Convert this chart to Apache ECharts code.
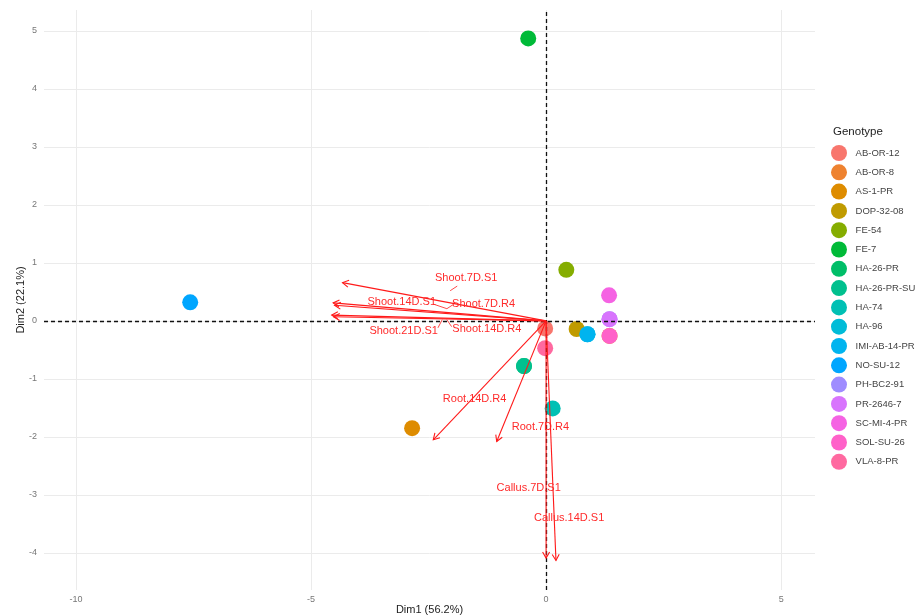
<!DOCTYPE html>
<html>
<head>
<meta charset="utf-8">
<title>PCA biplot</title>
<script src="https://cdn.jsdelivr.net/npm/echarts@6/dist/echarts.min.js"></script>
<style>
  html, body { margin: 0; padding: 0; background: #ffffff; }
  #chart { width: 920px; height: 615px; }
</style>
</head>
<body>
<div id="chart"></div>
<script>
// Individuals (genotypes) on the first two principal dimensions
const genotypes = ['AB-OR-12', 'AB-OR-8', 'AS-1-PR', 'DOP-32-08', 'FE-54', 'FE-7', 'HA-26-PR',
  'HA-26-PR-SU', 'HA-74', 'HA-96', 'IMI-AB-14-PR', 'NO-SU-12', 'PH-BC2-91', 'PR-2646-7',
  'SC-MI-4-PR', 'SOL-SU-26', 'VLA-8-PR'];
const dim1 = [-0.02, 1.35, -2.85, 0.65, 0.43, -0.38, -0.47, -0.47, 0.14, 0.88, 0.88, -7.57, 1.35, 1.35, 1.34, 1.35, -0.02];
const dim2 = [-0.13, -0.26, -1.85, -0.14, 0.88, 4.87, -0.78, -0.78, -1.51, -0.23, -0.23, 0.32, 0.03, 0.03, 0.44, -0.26, -0.47];

// Variables (arrow end points)
const variables = ['Shoot.7D.S1', 'Shoot.14D.S1', 'Shoot.7D.R4', 'Shoot.21D.S1', 'Shoot.14D.R4',
  'Root.14D.R4', 'Root.7D.R4', 'Callus.7D.S1', 'Callus.14D.S1'];
const varDim1 = [-4.33, -4.53, -4.50, -4.56, -4.52, -2.40, -1.05, 0.00, 0.21];
const varDim2 = [0.66, 0.31, 0.27, 0.10, 0.07, -2.05, -2.08, -4.09, -4.13];

// Axis ticks
const xTicks = [-10, -5, 0, 5];
const yTicks = [-4, -3, -2, -1, 0, 1, 2, 3, 4, 5];

// Layout: variable label anchors and short leader segments (data units)
const labelPos = [[-1.70, 0.74], [-3.07, 0.32], [-1.33, 0.30], [-3.03, -0.17], [-1.26, -0.14],
  [-1.52, -1.34], [-0.12, -1.83], [-0.37, -2.88], [0.49, -3.39]];
const leaders = [
  [[-2.04, 0.52], [-1.89, 0.60]],
  [[-2.40, 0.29], [-2.11, 0.21]],
  [[-1.96, 0.29], [-2.11, 0.21]],
  [[-2.30, -0.12], [-2.21, 0.02]],
  [[-2.11, 0.02], [-2.01, -0.10]]
];

const palette = ['#F8766D', '#EE8230', '#DE8C00', '#C09B00', '#85AD00', '#00BA38', '#00BE68',
  '#00C08E', '#00C0B4', '#00BCD8', '#00B4EF', '#00A6FF', '#9F8CFF', '#D874FD',
  '#F563E3', '#FF61C9', '#FF69A0'];

const X_MIN = -10.68, X_MAX = 5.72, Y_MIN = -4.64, Y_MAX = 5.36;
const FONT = '"Liberation Sans", Arial, sans-serif';
const ARROW_RED = '#FF1A1A';

const chart = echarts.init(document.getElementById('chart'), null, { renderer: 'canvas' });

const pointSeries = genotypes.map((g, i) => ({
  name: g,
  type: 'scatter',
  symbol: 'circle',
  symbolSize: 16,
  z: 2,
  itemStyle: { color: palette[i], opacity: 1 },
  emphasis: { disabled: true },
  data: [[dim1[i], dim2[i]]]
}));

// Gridlines (under the points) and zero reference lines (over the points)
const gridSeries = {
  type: 'scatter',
  data: [],
  silent: true,
  z: 1,
  markLine: {
    z: 1,
    silent: true,
    symbol: 'none',
    animation: false,
    label: { show: false },
    lineStyle: { color: '#EBEBEB', width: 1, type: 'solid' },
    data: xTicks.map(v => ({ xAxis: v })).concat(yTicks.map(v => ({ yAxis: v })))
  }
};
const zeroSeries = {
  type: 'scatter',
  data: [],
  silent: true,
  z: 3,
  markLine: {
    z: 3,
    silent: true,
    symbol: 'none',
    animation: false,
    label: { show: false },
    lineStyle: { color: '#111111', width: 1.3, type: [4, 3] },
    data: [{ xAxis: 0 }, { yAxis: 0 }]
  }
};

// Variable arrows with open heads
const arrowSeries = {
  type: 'custom',
  silent: true,
  z: 4,
  data: varDim1.map((x, i) => [x, varDim2[i]]),
  renderItem: function (params, api) {
    const o = api.coord([0, 0]);
    const t = api.coord([api.value(0), api.value(1)]);
    const ang = Math.atan2(t[1] - o[1], t[0] - o[0]);
    const L = 7, a = Math.PI / 6;
    const p1 = [t[0] - L * Math.cos(ang - a), t[1] - L * Math.sin(ang - a)];
    const p2 = [t[0] - L * Math.cos(ang + a), t[1] - L * Math.sin(ang + a)];
    const st = { stroke: ARROW_RED, lineWidth: 1.1, fill: null };
    return {
      type: 'group',
      children: [
        { type: 'line', shape: { x1: o[0], y1: o[1], x2: t[0], y2: t[1] }, style: st },
        { type: 'polyline', shape: { points: [p1, t, p2] }, style: st }
      ]
    };
  }
};

// Leader segments for repelled labels
const leaderSeries = {
  type: 'custom',
  silent: true,
  z: 5,
  data: leaders.map(s => [s[0][0], s[0][1], s[1][0], s[1][1]]),
  renderItem: function (params, api) {
    const a = api.coord([api.value(0), api.value(1)]);
    const b = api.coord([api.value(2), api.value(3)]);
    return {
      type: 'line',
      shape: { x1: a[0], y1: a[1], x2: b[0], y2: b[1] },
      style: { stroke: ARROW_RED, lineWidth: 0.8 }
    };
  }
};

// Variable names
const labelSeries = {
  type: 'custom',
  silent: true,
  z: 6,
  data: labelPos.map((p, i) => [p[0], p[1], i]),
  renderItem: function (params, api) {
    const c = api.coord([api.value(0), api.value(1)]);
    return {
      type: 'text',
      x: c[0], y: c[1],
      style: {
        text: variables[api.value(2)],
        fill: '#FF2A2A',
        font: '11px ' + FONT,
        align: 'center',
        verticalAlign: 'middle'
      }
    };
  }
};

const option = {
  animation: false,
  backgroundColor: '#ffffff',
  title: {
    text: 'Genotype',
    left: 833,
    top: 126,
    padding: 0,
    textStyle: { fontFamily: FONT, fontSize: 11.5, fontWeight: 'normal', color: '#222222' }
  },
  legend: {
    orient: 'vertical',
    left: 831,
    top: 145,
    padding: 0,
    itemWidth: 23.2,
    itemHeight: 16,
    itemGap: 3.3,
    icon: 'circle',
    selectedMode: false,
    textStyle: { fontFamily: FONT, fontSize: 9.5, color: '#444444' },
    data: genotypes
  },
  grid: { left: 44, right: 105, top: 10, bottom: 25, containLabel: false, outerBoundsMode: 'none' },
  xAxis: {
    type: 'value',
    min: X_MIN,
    max: X_MAX,
    name: 'Dim1 (56.2%)',
    nameLocation: 'middle',
    nameGap: 14,
    nameMoveOverlap: false,
    nameTextStyle: { fontFamily: FONT, fontSize: 11, color: '#222222' },
    axisLine: { show: false },
    axisTick: { show: false, customValues: xTicks },
    splitLine: { show: false },
    axisLabel: {
      customValues: xTicks,
      margin: 5,
      fontFamily: FONT,
      fontSize: 9,
      color: '#777777'
    }
  },
  yAxis: {
    type: 'value',
    min: Y_MIN,
    max: Y_MAX,
    name: 'Dim2 (22.1%)',
    nameLocation: 'middle',
    nameGap: 18,
    nameMoveOverlap: false,
    nameRotate: 90,
    nameTextStyle: { fontFamily: FONT, fontSize: 11, color: '#222222' },
    axisLine: { show: false },
    axisTick: { show: false, customValues: yTicks },
    splitLine: { show: false },
    axisLabel: {
      customValues: yTicks,
      margin: 7,
      fontFamily: FONT,
      fontSize: 9,
      color: '#777777'
    }
  },
  series: [gridSeries].concat(pointSeries, [zeroSeries, arrowSeries, leaderSeries, labelSeries])
};

chart.setOption(option);
</script>
</body>
</html>
